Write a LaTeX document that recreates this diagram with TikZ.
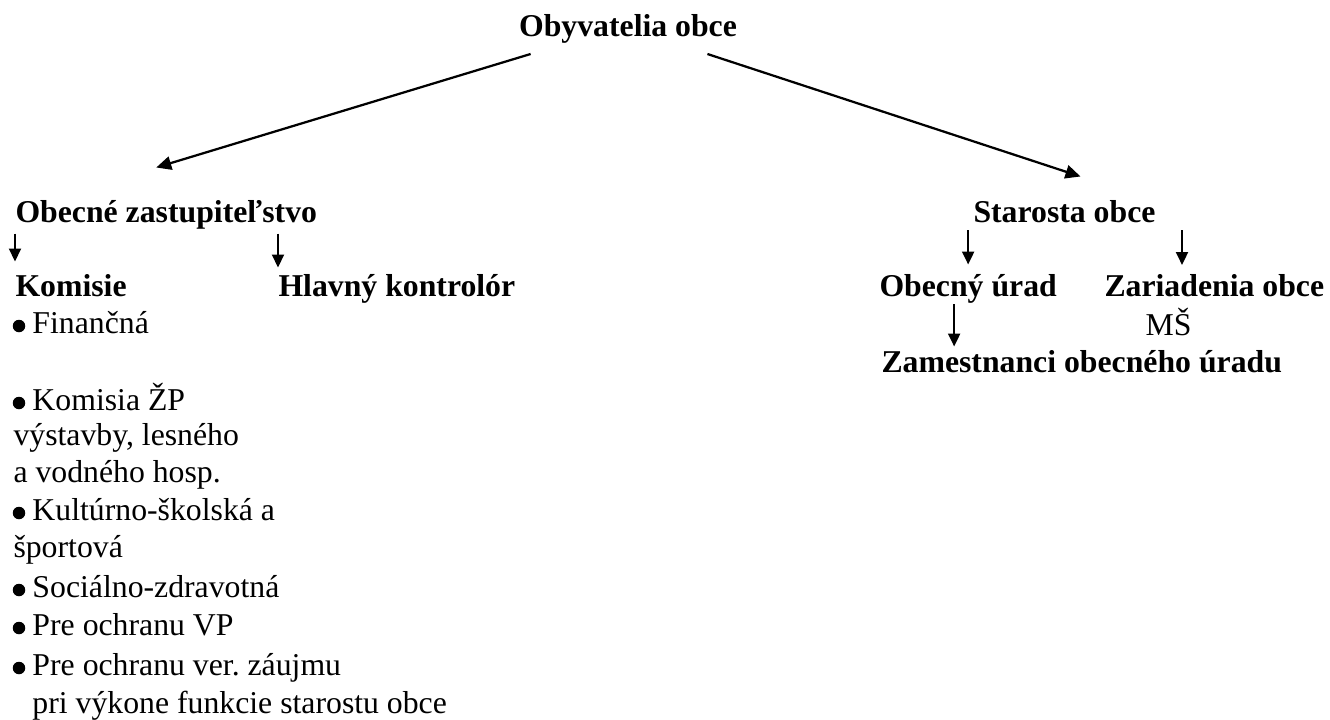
\documentclass[tikz,border=0pt,12pt]{standalone}
\usepackage{fontspec}
\setmainfont{Liberation Serif}
\usetikzlibrary{arrows.meta,positioning}

\tikzset{
  lbl/.style={inner sep=0pt, anchor=base west, text height=10pt, text depth=3pt},
  head/.style={lbl, font=\bfseries},
  dot/.style={circle, fill, inner sep=0pt, minimum size=5pt},
  arr/.style={line width=0.85pt, -{Triangle[length=5.2pt,width=4.8pt]}},
  bigarr/.style={line width=0.9pt, -{Triangle[length=6pt,width=5.4pt]}},
}

\begin{document}
\frenchspacing
\fontsize{12.7}{15}\selectfont
\begin{tikzpicture}[x=0.4pt, y=-0.4pt]
\useasboundingbox (0,0) rectangle (1330,719);
% top
\node[head, anchor=base] (obyv) at (628,37) {Obyvatelia obce};
\node[head] (zast) at (15,222) {Obecné zastupiteľstvo};
\node[head] (starosta) at (973,222) {Starosta obce};
% left branch
\node[head] (komisie) at (15,296) {Komisie};
\node[head] (kontrolor) at (278,296) {Hlavný kontrolór};
\node[dot] (d1) at (19,326) {};
\node[lbl] (fin) at (32,333) {Finančná};
\node[dot] (d2) at (19,403) {};
\node[lbl] (zp) at (32,410) {Komisia ŽP};
\node[lbl] (zp2) at (13,445) {výstavby, lesného};
\node[lbl] (zp3) at (13,482) {a vodného hosp.};
\node[dot] (d3) at (19,513) {};
\node[lbl] (kult) at (32,520) {Kultúrno-školská a};
\node[lbl] (kult2) at (13,557) {športová};
\node[dot] (d4) at (19,590) {};
\node[lbl] (soc) at (32,597) {Sociálno-zdravotná};
\node[dot] (d5) at (19,628) {};
\node[lbl] (vp) at (32,635) {Pre ochranu VP};
\node[dot] (d6) at (19,668) {};
\node[lbl] (zaujem) at (32,675) {Pre ochranu ver. záujmu};
\node[lbl] (zaujem2) at (32,713) {pri výkone funkcie starostu obce};
% right branch
\node[head] (urad) at (879,296) {Obecný úrad};
\node[head] (zariadenia) at (1104,296) {Zariadenia obce};
\node[lbl] (ms) at (1145,335) {MŠ};
\node[head] (zamest) at (881,372) {Zamestnanci obecného úradu};
\coordinate (zar_in) at (1182,271);
% arrows
\draw[bigarr] ([shift={(12,9)}]obyv.south west) -- ([shift={(-10,-29)}]zast.north);
\draw[bigarr] ([shift={(-30,9)}]obyv.south east) -- ([shift={(16,-20)}]starosta.north);
\draw[arr, shorten <=1.4pt, shorten >=3.6pt] (komisie.north west |- zast.south) -- (komisie.north west);
\draw[arr, shorten <=1.4pt, shorten >=1.2pt] (kontrolor.north west |- zast.south) -- (kontrolor.north west);
\draw[arr, shorten >=2.4pt] (urad.north |- starosta.south) -- (urad.north);
\draw[arr, shorten >=2.4pt] (zar_in |- starosta.south) -- (zar_in);
\draw[arr] ([xshift=-5.6pt]urad.south) -- ([xshift=-5.6pt]urad.south |- zamest.north);
\end{tikzpicture}
\end{document}
